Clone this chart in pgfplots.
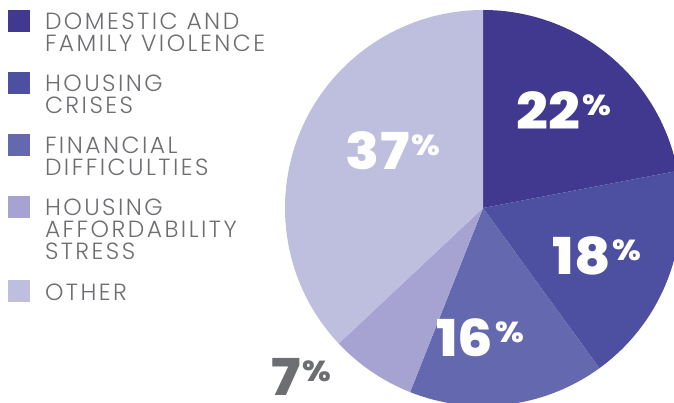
\documentclass[border=0pt]{standalone}
\usepackage{pgfplots}
\pgfplotsset{compat=1.18}
\usepackage{pgfplotstable}
\usepackage{fontspec}
\IfFontExistsTF{Poppins Light}{\setmainfont{Poppins Light}[BoldFont=Poppins Bold]}{\setmainfont{Poppins}}
\IfFontExistsTF{Poppins ExtraBold}{\newfontfamily\numfont{Poppins ExtraBold}[FakeStretch=1.1]}{\newcommand\numfont{\bfseries}}
\newfontfamily\legfont{Poppins Light}[LetterSpace=10.5]

\definecolor{cA}{HTML}{41388F}
\definecolor{cB}{HTML}{4D50A0}
\definecolor{cC}{HTML}{6368AF}
\definecolor{cD}{HTML}{A6A3D3}
\definecolor{cE}{HTML}{BEBFDF}
\definecolor{txtgray}{HTML}{6D6E71}

% shares in percent, clockwise from 12 o'clock
\pgfplotstableread{
share col
22 cA
18 cB
16 cC
7  cD
37 cE
}\piedata

\newcommand\pct{\hspace{2bp}\raisebox{14bp}{\fontsize{29}{29}\selectfont\%}}

\begin{document}
\begin{tikzpicture}
\begin{axis}[
    width=674bp, height=403bp, scale only axis,
    xmin=0, xmax=674, ymin=0, ymax=403,
    hide axis, clip=false,
    every axis legend/.style={
        at={(axis cs:8,393)}, anchor=north west,
        draw=none, fill=none, inner sep=0pt, outer sep=0pt,
        row sep=20.5bp, column sep=15bp,
        cells={anchor=north west},
        font=\legfont\fontsize{23.5}{22}\selectfont, text=txtgray,
        nodes={inner sep=0pt, align=left}},
    legend image code/.code={\fill[#1] (0bp,3bp) rectangle (22bp,-19bp);},
]
\begin{scope}
\clip (axis cs:0,0) rectangle (axis cs:674,403);
\def\angA{90}
\pgfplotsforeachungrouped \i in {0,...,4}{%
    \pgfplotstablegetelem{\i}{share}\of\piedata \let\p\pgfplotsretval
    \pgfplotstablegetelem{\i}{col}\of\piedata \let\c\pgfplotsretval
    \pgfmathsetmacro\angB{\angA-3.6*\p}%
    \edef\temp{\noexpand\fill[\c] (axis cs:483,195) -- ++(\angA:198bp)
        arc[start angle=\angA, end angle=\angB, radius=198bp] -- cycle;}%
    \temp
    \let\angA\angB
}
\end{scope}

\addlegendimage{fill=cA, draw=none}
\addlegendentry{DOMESTIC AND\\FAMILY VIOLENCE}
\addlegendimage{fill=cB, draw=none}
\addlegendentry{HOUSING\\CRISES}
\addlegendimage{fill=cC, draw=none}
\addlegendentry{FINANCIAL\\DIFFICULTIES}
\addlegendimage{fill=cD, draw=none}
\addlegendentry{HOUSING\\AFFORDABILITY\\STRESS}
\addlegendimage{fill=cE, draw=none}
\addlegendentry{OTHER}

\tikzset{pl/.style={anchor=base, inner sep=0pt, text=white,
    font=\numfont\fontsize{51}{51}\selectfont}}
\node[pl] at (axis cs:564,273) {22\pct};
\node[pl] at (axis cs:393,233) {37\pct};
\node[pl] at (axis cs:597,128) {18\pct};
\node[pl] at (axis cs:480,46) {16\pct};
\node[pl, text=txtgray] at (axis cs:301,8) {7\pct};
\end{axis}
\pgfresetboundingbox
\path (current axis.south west) rectangle (current axis.north east);
\end{tikzpicture}
\end{document}
